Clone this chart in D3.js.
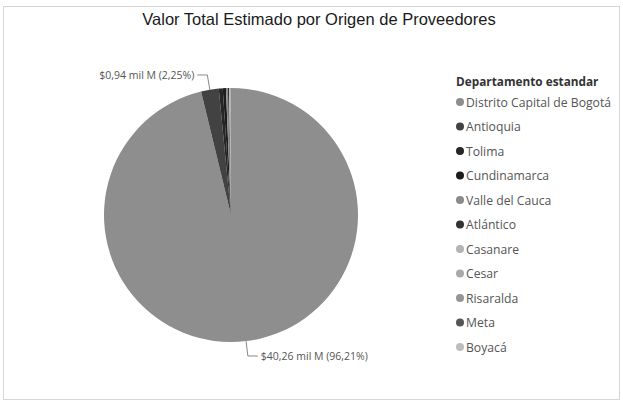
<!DOCTYPE html>
<html lang="es">
<meta charset="UTF-8">
<title>Valor Total Estimado por Origen de Proveedores</title>
<script src="https://d3js.org/d3.v7.min.js"></script>
<style>
  body { margin: 0; background: #fff; }
  svg { display: block; }
  .title { font-family: "Liberation Sans", Arial, sans-serif; font-size: 16.5px; fill: #1a1a1a; }
  .lbl { font-family: "Open Sans", sans-serif; font-size: 10.5px; fill: #555; }
  .leg-title { font-family: "Open Sans", sans-serif; font-size: 11.8px; font-weight: bold; fill: #333; }
  .leg { font-family: "Open Sans", sans-serif; font-size: 12.2px; fill: #555; }
</style>
<body>
<svg width="623" height="403"></svg>
<script>
// departamentos y valor estimado (mil M)
var departamentos = ["Distrito Capital de Bogotá", "Antioquia", "Tolima", "Cundinamarca",
  "Valle del Cauca", "Atlántico", "Casanare", "Cesar", "Risaralda", "Meta", "Boyacá"];
var valores = [40.26, 0.94, 0.21, 0.17, 0.10, 0.06, 0.035, 0.025, 0.02, 0.015, 0.01];
var grises = ["#8e8e8e", "#424242", "#262626", "#1c1c1c", "#8a8a8a", "#333333",
  "#b4b4b4", "#a9a9a9", "#959595", "#555555", "#bdbdbd"];
// slices with a data label
var conEtiqueta = ["Distrito Capital de Bogotá", "Antioquia"];

var svg = d3.select("svg");

// frame
svg.append("rect").attr("x", 3.5).attr("y", 6.5).attr("width", 616).attr("height", 393)
  .attr("fill", "none").attr("stroke", "#d6d6d6");

svg.append("text").attr("class", "title")
  .attr("x", 319).attr("y", 25).attr("text-anchor", "middle")
  .text("Valor Total Estimado por Origen de Proveedores");

var datos = departamentos.map((d, i) => ({ dep: d, valor: valores[i], color: grises[i] }));
var total = d3.sum(valores);

var cx = 231, cy = 215, r = 127;
var pie = d3.pie().sort(null).value(d => d.valor);
var arc = d3.arc().innerRadius(0).outerRadius(r);
var arcos = pie(datos);

var g = svg.append("g").attr("transform", `translate(${cx},${cy})`);
g.selectAll("path").data(arcos).enter().append("path")
  .attr("d", arc)
  .attr("fill", d => d.data.color);

// labels with leader lines
var fmt = v => "$" + d3.format(".2f")(v).replace(".", ",") + " mil M";
var pct = v => d3.format(".2f")(v * 100).replace(".", ",") + "%";
arcos.filter(d => conEtiqueta.includes(d.data.dep)).forEach(d => {
  var a = (d.startAngle + d.endAngle) / 2;
  var p0 = [Math.sin(a) * r, -Math.cos(a) * r];
  var p1 = [Math.sin(a) * (r + 15), -Math.cos(a) * (r + 15)];
  var lado = Math.sin(a) < 0.2 && Math.cos(a) > 0 ? -1 : 1;
  var p2 = [p1[0] + lado * 10, p1[1]];
  g.append("polyline")
    .attr("points", [p0, p1, p2].map(p => p.join(",")).join(" "))
    .attr("fill", "none").attr("stroke", "#888").attr("stroke-width", 1);
  g.append("text").attr("class", "lbl")
    .attr("x", p2[0] + lado * 3).attr("y", p2[1] + 4)
    .attr("text-anchor", lado < 0 ? "end" : "start")
    .text(fmt(d.data.valor) + " (" + pct(d.data.valor / total) + ")");
});

// legend
var leg = svg.append("g").attr("transform", "translate(456,86)");
leg.append("text").attr("class", "leg-title").attr("x", 0).attr("y", 0).text("Departamento estandar");
var y = d3.scalePoint().domain(departamentos).range([16, 261]);
var item = leg.selectAll("g.item").data(datos).enter().append("g").attr("class", "item")
  .attr("transform", d => `translate(0,${y(d.dep)})`);
item.append("circle").attr("cx", 4).attr("cy", 0).attr("r", 4).attr("fill", d => d.color);
item.append("text").attr("class", "leg").attr("x", 10).attr("y", 4.5).text(d => d.dep);
</script>
</body>
</html>
